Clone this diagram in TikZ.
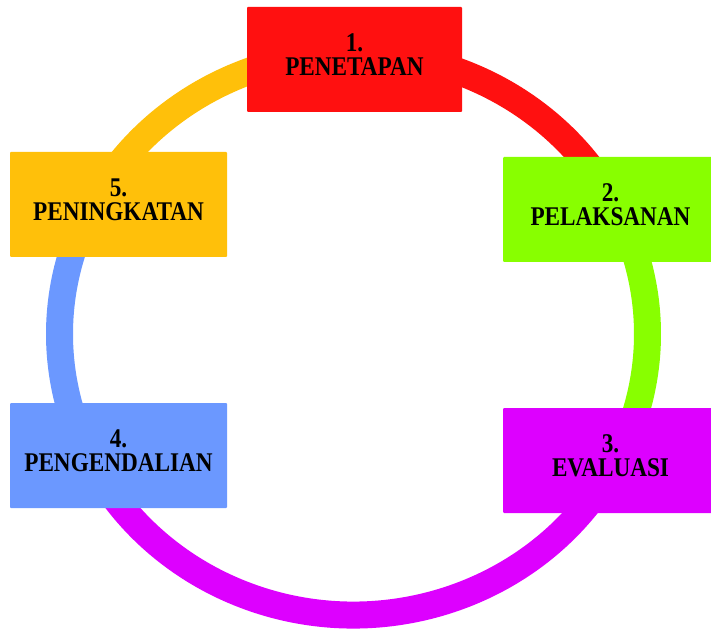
\documentclass[tikz,border=0pt]{standalone}
\usepackage{fontspec}
\newfontfamily\boxfont[FakeStretch=0.86]{Liberation Serif}
\definecolor{cRed}{HTML}{FF1010}
\definecolor{cGreen}{HTML}{88FF00}
\definecolor{cPurple}{HTML}{DD00FF}
\definecolor{cBlue}{HTML}{6B98FF}
\definecolor{cYellow}{HTML}{FFC00A}
\tikzset{
  ringseg/.style={line width=27pt},
  stagebox/.style={rectangle, rounded corners=1pt, minimum width=215pt, minimum height=105pt,
    inner sep=0pt, align=center, text depth=10pt,
    font=\boxfont\bfseries\fontsize{27}{24}\selectfont, text=black},
}
\begin{document}
\begin{tikzpicture}[x=1pt,y=1pt]
  \useasboundingbox (0,0) rectangle (711,632);
  \coordinate (o) at (353.5,298);
  % the cycle ring, one colour per stage
  \draw[ringseg, cRed]    (o) ++(92:294pt and 281pt)  arc[start angle=92,  end angle=24,  x radius=294pt, y radius=281pt];
  \draw[ringseg, cGreen]  (o) ++(28:294pt and 281pt)  arc[start angle=28,  end angle=-29, x radius=294pt, y radius=281pt];
  \draw[ringseg, cPurple] (o) ++(-25:294pt and 281pt) arc[start angle=-25, end angle=-156, x radius=294pt, y radius=281pt];
  \draw[ringseg, cBlue]   (o) ++(-152:294pt and 281pt) arc[start angle=-152, end angle=-205, x radius=294pt, y radius=281pt];
  \draw[ringseg, cYellow] (o) ++(150:294pt and 281pt) arc[start angle=150, end angle=88, x radius=294pt, y radius=281pt];
  % stage boxes
  \node[stagebox, fill=cRed]    (s1) at (354.5,572.5) {1.\\PENETAPAN};
  \node[stagebox, fill=cGreen]  (s2) at (610.5,422.5) {2.\\PELAKSANAN};
  \node[stagebox, fill=cPurple] (s3) at (610.5,171.5) {3.\\EVALUASI};
  \node[stagebox, fill=cBlue, minimum width=217pt]   (s4) at (118.5,176.5) {4.\\PENGENDALIAN};
  \node[stagebox, fill=cYellow, minimum width=217pt] (s5) at (118.5,427.5) {5.\\PENINGKATAN};
\end{tikzpicture}
\end{document}
